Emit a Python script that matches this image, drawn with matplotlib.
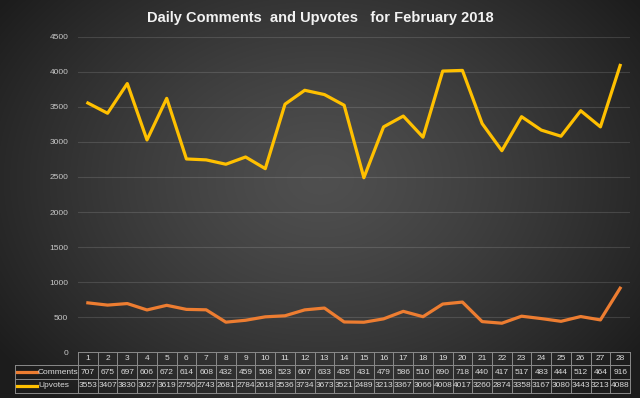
import numpy as np
import matplotlib
matplotlib.use("Agg")
import matplotlib.pyplot as plt

days = list(range(1, 29))
comments = [707, 675, 697, 606, 672, 614, 608, 432, 459, 508, 523, 607, 633, 435,
            431, 479, 586, 510, 690, 718, 440, 417, 517, 483, 444, 512, 464, 916]
upvotes = [3553, 3407, 3830, 3027, 3619, 2756, 2743, 2681, 2784, 2618, 3536, 3734, 3673, 3521,
           2489, 3213, 3367, 3066, 4008, 4017, 3260, 2874, 3358, 3167, 3080, 3443, 3213, 4088]
yticks = [0, 500, 1000, 1500, 2000, 2500, 3000, 3500, 4000, 4500]
title = "Daily Comments  and Upvotes   for February 2018"

FAM = "Liberation Sans"
fs = 6.0
tfs = 10.5

C_COM = "#ED7D31"
C_UP = "#FFC000"
W, H = 640, 398
fig = plt.figure(figsize=(W / 100, H / 100), dpi=100)

# radial gradient background
bg = fig.add_axes([0, 0, 1, 1], zorder=-10)
yy, xx = np.mgrid[0:H, 0:W]
r = np.sqrt(((xx - W / 2) / (W * 0.62)) ** 2 + ((yy - H * 0.45) / (H * 0.75)) ** 2)
r = np.clip(r, 0, 1)
v = 0.31 - 0.20 * r ** 1.3
img = np.dstack([v, v, v])
bg.imshow(img, extent=[0, 1, 0, 1], aspect="auto", origin="upper")
bg.set_axis_off()

def fx(px):
    return px / W

def fy(py):
    return 1 - py / H

left, right, top, bottom = 78, 630, 36.5, 352.5
ax = fig.add_axes([fx(left), fy(bottom), fx(right) - fx(left), fy(top) - fy(bottom)])
ax.set_facecolor("none")
ax.set_xlim(0.5, 28.5)
ax.set_ylim(0, 4500)
ax.plot(days, comments, color=C_COM, lw=2.3, solid_joinstyle="round")
ax.plot(days, upvotes, color=C_UP, lw=2.3, solid_joinstyle="round")
ax.set_yticks(yticks)
ax.set_yticklabels([str(t) for t in yticks], color="#c8c8c8", fontsize=fs, family=FAM)
ax.tick_params(axis="y", length=0, pad=7)
ax.set_xticks([])
for t in yticks[1:]:
    ax.axhline(t, color="#ffffff", alpha=0.13, lw=0.8, zorder=0)
for s in ax.spines.values():
    s.set_visible(False)

fig.text(0.5, fy(18), title, ha="center", va="center", color="#f2f2f2",
         fontsize=tfs, fontweight="bold", family=FAM)

# table
tab = fig.add_axes([0, 0, 1, 1], zorder=5)
tab.set_xlim(0, W)
tab.set_ylim(H, 0)
tab.set_axis_off()
colw = (right - left) / 28
rows_y = [351.7, 365, 379, 392.7]
gc = "#8a8a8a"
lw = 0.7
tc = "#dcdcdc"
tab.plot([left, right], [rows_y[0], rows_y[0]], color=gc, lw=lw)
for yv in rows_y[1:]:
    tab.plot([15, right], [yv, yv], color=gc, lw=lw)
for i in range(29):
    xv = left + i * colw
    tab.plot([xv, xv], [rows_y[0], rows_y[3]], color=gc, lw=lw)
tab.plot([15, 15], [rows_y[1], rows_y[3]], color=gc, lw=lw)
for i, d in enumerate(days):
    xc = left + (i + 0.5) * colw
    tab.text(xc, (rows_y[0] + rows_y[1]) / 2, str(d), ha="center", va="center", color=tc, fontsize=fs, family=FAM)
    tab.text(xc, (rows_y[1] + rows_y[2]) / 2, str(comments[i]), ha="center", va="center", color=tc, fontsize=fs, family=FAM)
    tab.text(xc, (rows_y[2] + rows_y[3]) / 2, str(upvotes[i]), ha="center", va="center", color=tc, fontsize=fs, family=FAM)
for k, (lab, col) in enumerate([("Comments", C_COM), ("Upvotes", C_UP)]):
    yc = (rows_y[1 + k] + rows_y[2 + k]) / 2
    tab.plot([17, 37], [yc, yc], color=col, lw=2.3)
    tab.text(38, yc, lab, ha="left", va="center", color=tc, fontsize=fs, family=FAM)

fig.savefig("out.png", dpi=100)
